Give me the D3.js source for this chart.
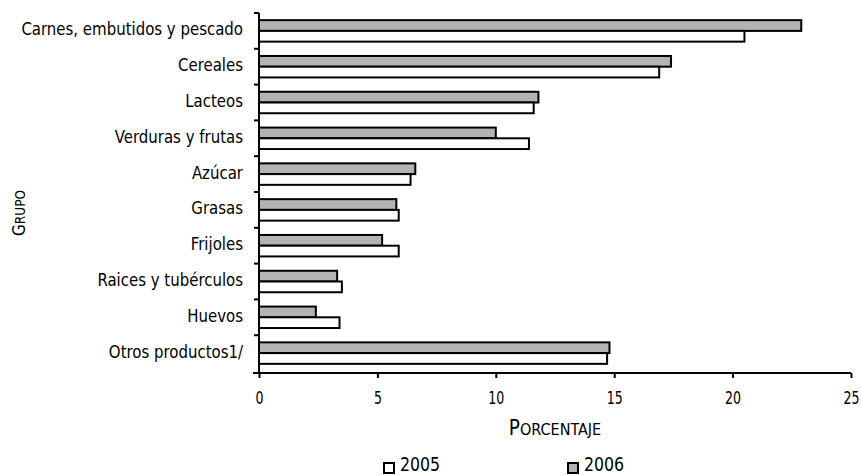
<!DOCTYPE html>
<html>
<head>
<meta charset="utf-8">
<script src="https://cdn.jsdelivr.net/npm/d3@7"></script>
<style>
  body { margin: 0; background: #fff; }
  text { font-family: "DejaVu Sans Condensed", "DejaVu Sans", sans-serif; fill: #000; }
</style>
</head>
<body>
<svg class="chart" width="861" height="475"></svg>
<script>
var categories = ["Carnes, embutidos y pescado", "Cereales", "Lacteos", "Verduras y frutas",
  "Azúcar", "Grasas", "Frijoles", "Raices y tubérculos", "Huevos", "Otros productos1/"];
var years = ["2006", "2005"];
var values2006 = [22.9, 17.4, 11.8, 10.0, 6.6, 5.8, 5.2, 3.3, 2.4, 14.8];
var values2005 = [20.5, 16.9, 11.6, 11.4, 6.4, 5.9, 5.9, 3.5, 3.4, 14.7];
var xTicks = [0, 5, 10, 15, 20, 25];
var fills = { "2006": "#b3b3b3", "2005": "#ffffff" };

var margin = {top: 13, left: 259},
    width = 851 - margin.left,
    bandHeight = 358,
    height = 360;

var data = categories.map(function(c, i) {
  return { Category: c, "2006": values2006[i], "2005": values2005[i] };
});

var x = d3.scaleLinear().domain([0, 25]).range([0, width]);
var y = d3.scaleBand().domain(categories).range([0, bandHeight]).paddingInner(0.4).paddingOuter(0.2);
var yInner = d3.scaleBand().domain(years).range([0, y.bandwidth()]);
var yTick = d3.scaleBand().domain(categories).range([0, bandHeight]);

var chart = d3.select(".chart")
  .append("g")
  .attr("transform", "translate(" + margin.left + "," + margin.top + ")");

var g = chart.selectAll(".cat")
  .data(data)
  .enter()
  .append("g")
  .attr("transform", function(d) { return "translate(0," + y(d.Category) + ")"; });

g.selectAll("rect")
  .data(function(d) { return years.map(function(k) { return { key: k, value: d[k] }; }); })
  .enter()
  .append("rect")
  .attr("x", 0)
  .attr("y", function(d) { return yInner(d.key); })
  .attr("width", function(d) { return x(d.value); })
  .attr("height", yInner.bandwidth())
  .style("fill", function(d) { return fills[d.key]; })
  .style("stroke", "#000")
  .style("stroke-width", 2);

// y axis
chart.append("line")
  .attr("x1", 0).attr("x2", 0)
  .attr("y1", 0).attr("y2", height)
  .style("stroke", "#000").style("stroke-width", 2);
chart.selectAll(".ytick")
  .data(categories)
  .enter()
  .append("line")
  .attr("x1", -5).attr("x2", 0)
  .attr("y1", function(d) { return yTick(d); })
  .attr("y2", function(d) { return yTick(d); })
  .style("stroke", "#000").style("stroke-width", 2);

var labels = chart.append("g")
  .attr("transform", "translate(-16,0) scale(0.9,1)");
labels.selectAll("text")
  .data(categories)
  .enter()
  .append("text")
  .attr("x", 0)
  .attr("y", function(d) { return yTick(d) + yTick.bandwidth() / 2 + 4.5; })
  .attr("text-anchor", "end")
  .style("font-size", "18.5px")
  .text(function(d) { return d; });

// x axis
var xAxis = d3.axisBottom(x).tickValues(xTicks).tickSize(5).tickSizeOuter(0).tickPadding(14);
var xAxisG = chart.append("g")
  .attr("transform", "translate(0," + height + ")")
  .call(xAxis);
xAxisG.select(".domain").attr("d", "M-6,0H" + width).style("stroke-width", 2);
xAxisG.selectAll(".tick line").style("stroke-width", 2);
xAxisG.selectAll("text")
  .attr("transform", "scale(0.8,1)")
  .style("font-size", "17.5px")
  .style("font-family", "'DejaVu Sans Condensed', 'DejaVu Sans', sans-serif");

// axis titles, small caps drawn by hand
var xTitle = chart.append("text")
  .attr("transform", "translate(" + (width / 2) + "," + (height + 62) + ")")
  .attr("text-anchor", "middle");
xTitle.append("tspan").style("font-size", "20.5px").text("P");
xTitle.append("tspan").style("font-size", "16px").text("ORCENTAJE");

var yTitle = chart.append("text")
  .attr("transform", "translate(" + (-234) + "," + 200 + ") rotate(-90)")
  .attr("text-anchor", "middle");
yTitle.append("tspan").style("font-size", "17px").text("G");
yTitle.append("tspan").style("font-size", "13.5px").text("RUPO");

// legend
var legend = [{ key: "2005", x: 125 }, { key: "2006", x: 309 }];
var lg = chart.selectAll(".legend")
  .data(legend)
  .enter()
  .append("g")
  .attr("transform", function(d) { return "translate(" + d.x + "," + (height + 90) + ")"; });
lg.append("rect")
  .attr("x", 0).attr("y", 0)
  .attr("width", 10).attr("height", 10)
  .style("fill", function(d) { return fills[d.key]; })
  .style("stroke", "#000").style("stroke-width", 2);
lg.append("text")
  .attr("transform", "translate(16,7.5) scale(0.9,1)")
  .style("font-size", "19.5px")
  .text(function(d) { return d.key; });
</script>
</body>
</html>
